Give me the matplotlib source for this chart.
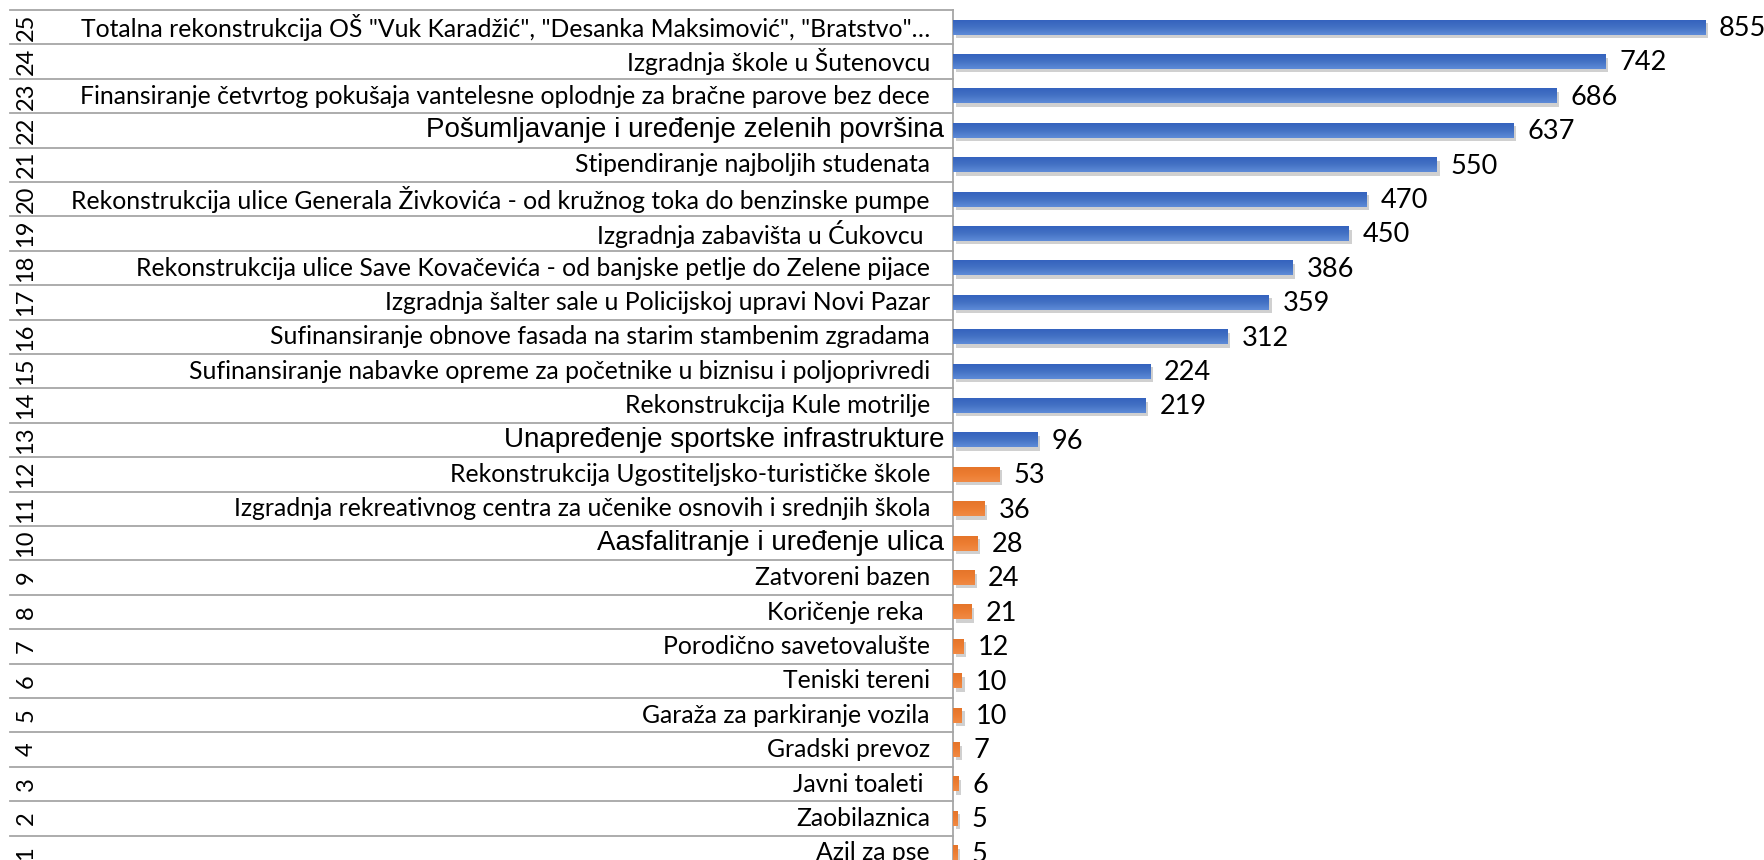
import numpy as np
import matplotlib.pyplot as plt
import matplotlib.patheffects as pe
from matplotlib.transforms import blended_transform_factory
from matplotlib.lines import Line2D
from matplotlib.colors import LinearSegmentedColormap

# rows listed from 1 (bottom) to 25 (top)
labels = [
    'Azil za pse',
    'Zaobilaznica',
    'Javni toaleti ',
    'Gradski prevoz',
    'Garaža za parkiranje vozila',
    'Teniski tereni',
    'Porodično savetovalušte',
    'Koričenje reka ',
    'Zatvoreni bazen',
    'Aasfalitranje i uređenje ulica',
    'Izgradnja rekreativnog centra za učenike osnovih i srednjih škola',
    'Rekonstrukcija Ugostiteljsko-turističke škole',
    'Unapređenje sportske infrastrukture',
    'Rekonstrukcija Kule motrilje',
    'Sufinansiranje nabavke opreme za početnike u biznisu i poljoprivredi',
    'Sufinansiranje obnove fasada na starim stambenim zgradama',
    'Izgradnja šalter sale u Policijskoj upravi Novi Pazar',
    'Rekonstrukcija ulice Save Kovačevića - od banjske petlje do Zelene pijace',
    'Izgradnja zabavišta u Ćukovcu ',
    'Rekonstrukcija ulice Generala Živkovića - od kružnog toka do benzinske pumpe',
    'Stipendiranje najboljih studenata',
    'Pošumljavanje i uređenje zelenih površina',
    'Finansiranje četvrtog pokušaja vantelesne oplodnje za bračne parove bez dece',
    'Izgradnja škole u Šutenovcu',
    'Totalna rekonstrukcija OŠ "Vuk Karadžić", "Desanka Maksimović", "Bratstvo"…',
]
votes = [5, 5, 6, 7, 10, 10, 12, 21, 24, 28, 36, 53, 96,
         219, 224, 312, 359, 386, 450, 470, 550, 637, 686, 742, 855]
funded = [False] * 12 + [True] * 13
arial_rows = [10, 13, 22]  # labels typed in a different font

W, H = 1765, 860
fig = plt.figure(figsize=(W / 100, H / 100), dpi=100)

row_h = 34.4
top = 10
axis_x = 953
px_per_vote = 0.8796
bar_h = 0.43

ax = fig.add_axes([axis_x / W, 1 - (top + 25 * row_h) / H, (W - axis_x) / W, 25 * row_h / H])
ax.set_xlim(0, (W - axis_x) / px_per_vote)
ax.set_ylim(-0.5, 24.5)
ax.axis('off')

blue = LinearSegmentedColormap.from_list('b', ['#5E8BD8', '#4472C4', '#3563BE'])
orange = LinearSegmentedColormap.from_list('o', ['#F08A45', '#ED7D31', '#E5752A'])
grad = np.linspace(0, 1, 50).reshape(-1, 1)

pos = list(range(len(votes)))
colors = ['#4472C4' if f else '#ED7D31' for f in funded]
bars = ax.barh(pos, votes, height=bar_h, color=colors)
for b, p, v, f in zip(bars, pos, votes, funded):
    b.set_path_effects([pe.SimplePatchShadow(offset=(2, -2.5), shadow_rgbFace='#666666', alpha=0.3),
                        pe.Normal()])
    ax.imshow(grad, extent=[0, v, p + bar_h / 2, p - bar_h / 2], aspect='auto',
              cmap=blue if f else orange, zorder=3, interpolation='bilinear')

ax.set_xlim(0, (W - axis_x) / px_per_vote)
ax.set_ylim(-0.5, 24.5)

for p, v in zip(pos, votes):
    ax.annotate(str(v), (v, p), xytext=(10, -1), textcoords='offset points',
                va='center', ha='left', fontsize=19.5, family='Lato')

tr = blended_transform_factory(fig.transFigure, ax.transData)
for i, (p, lab) in enumerate(zip(pos, labels)):
    if i + 1 in arial_rows:
        ax.text(944 / W, p, lab, transform=tr, ha='right', va='center',
                fontsize=20, family='Liberation Sans')
    else:
        ax.text(930 / W, p, lab, transform=tr, ha='right', va='center',
                fontsize=17.8, family='Lato')
    ax.text(26 / W, p, str(i + 1), transform=tr, ha='center', va='center',
            rotation=90, fontsize=17, family='Lato')

# table lines
for k in range(26):
    y = k - 0.5
    ax.add_line(Line2D([10 / W, axis_x / W], [y, y], transform=tr, color='#A6A6A6',
                       lw=1.3, clip_on=False))
ax.add_line(Line2D([axis_x / W, axis_x / W], [-0.5, 24.5], transform=tr, color='#A6A6A6',
                   lw=1.3, clip_on=False))

fig.savefig('out.png', dpi=100)
